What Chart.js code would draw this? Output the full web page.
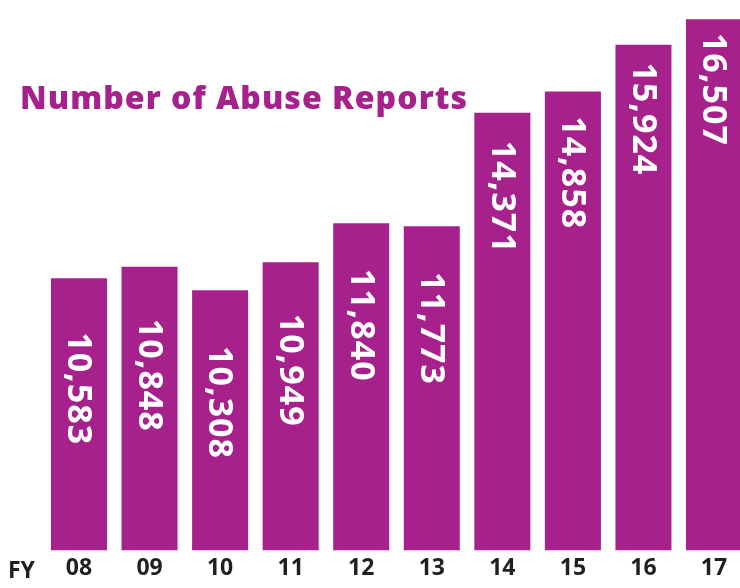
<!DOCTYPE html>
<html>
<head>
<meta charset="utf-8">
<script src="https://cdn.jsdelivr.net/npm/chart.js@4"></script>
<style>
html,body{margin:0;padding:0;overflow:hidden;background:#fff;}
#wrap{position:relative;width:740px;height:588px;overflow:hidden;}
canvas{display:block;}
</style>
</head>
<body>
<div id="wrap"><canvas id="c" width="760" height="588"></canvas></div>
<script>
const categories = ['08','09','10','11','12','13','14','15','16','17'];
const reports = [10583, 10848, 10308, 10949, 11840, 11773, 14371, 14858, 15924, 16507];
const chartTitle = 'Number of Abuse Reports';
const axisPrefix = 'FY';

const PURPLE = '#A7218C';
const DARK = '#231F20';
const FONT = '"Open Sans", "DejaVu Sans", sans-serif';

const overlay = {
  id: 'overlay',
  afterDatasetsDraw(chart) {
    const ctx = chart.ctx;
    const meta = chart.getDatasetMeta(0);
    const fs = 34;
    ctx.save();
    ctx.fillStyle = '#fff';
    ctx.font = 'bold ' + fs + 'px ' + FONT;
    ctx.letterSpacing = '1px';
    ctx.textAlign = 'center';
    ctx.textBaseline = 'alphabetic';
    meta.data.forEach((bar, i) => {
      const label = reports[i].toLocaleString('en-US');
      const cy = 1.156 * bar.y + 67;
      ctx.save();
      ctx.translate(bar.x + 1.5 - fs * 0.714 / 2, cy);
      ctx.rotate(Math.PI / 2);
      ctx.fillText(label, 0, 0);
      ctx.restore();
    });
    ctx.restore();
  },
  afterDraw(chart) {
    const ctx = chart.ctx;
    ctx.save();
    ctx.fillStyle = PURPLE;
    ctx.font = '800 32px ' + FONT;
    ctx.textAlign = 'left';
    ctx.textBaseline = 'alphabetic';
    const natural = ctx.measureText(chartTitle).width;
    const extra = Math.max(0, (447 - natural) / (chartTitle.length - 1));
    ctx.letterSpacing = extra.toFixed(2) + 'px';
    ctx.fillText(chartTitle, 20, 109);
    ctx.letterSpacing = '0px';
    ctx.fillStyle = DARK;
    ctx.font = 'bold 23px ' + FONT;
    ctx.fillText(axisPrefix, 8, 578);
    ctx.restore();
  }
};

new Chart(document.getElementById('c'), {
  type: 'bar',
  data: {
    labels: categories,
    datasets: [{
      data: reports,
      backgroundColor: PURPLE,
      borderWidth: 0,
      barPercentage: 0.794,
      categoryPercentage: 1
    }]
  },
  options: {
    responsive: false,
    animation: false,
    layout: { padding: { left: 43.7, right: 10.7, top: 0, bottom: 1.4 } },
    plugins: { legend: { display: false }, tooltip: { enabled: false }, title: { display: false } },
    scales: {
      x: {
        grid: { display: false, drawTicks: false },
        border: { display: false },
        ticks: { color: DARK, font: { family: FONT, size: 23, weight: 'bold', lineHeight: 0.8 }, padding: 9, maxRotation: 0, autoSkip: false }
      },
      y: {
        display: false,
        min: 4360,
        max: 16950
      }
    }
  },
  plugins: [overlay]
});
</script>
</body>
</html>
